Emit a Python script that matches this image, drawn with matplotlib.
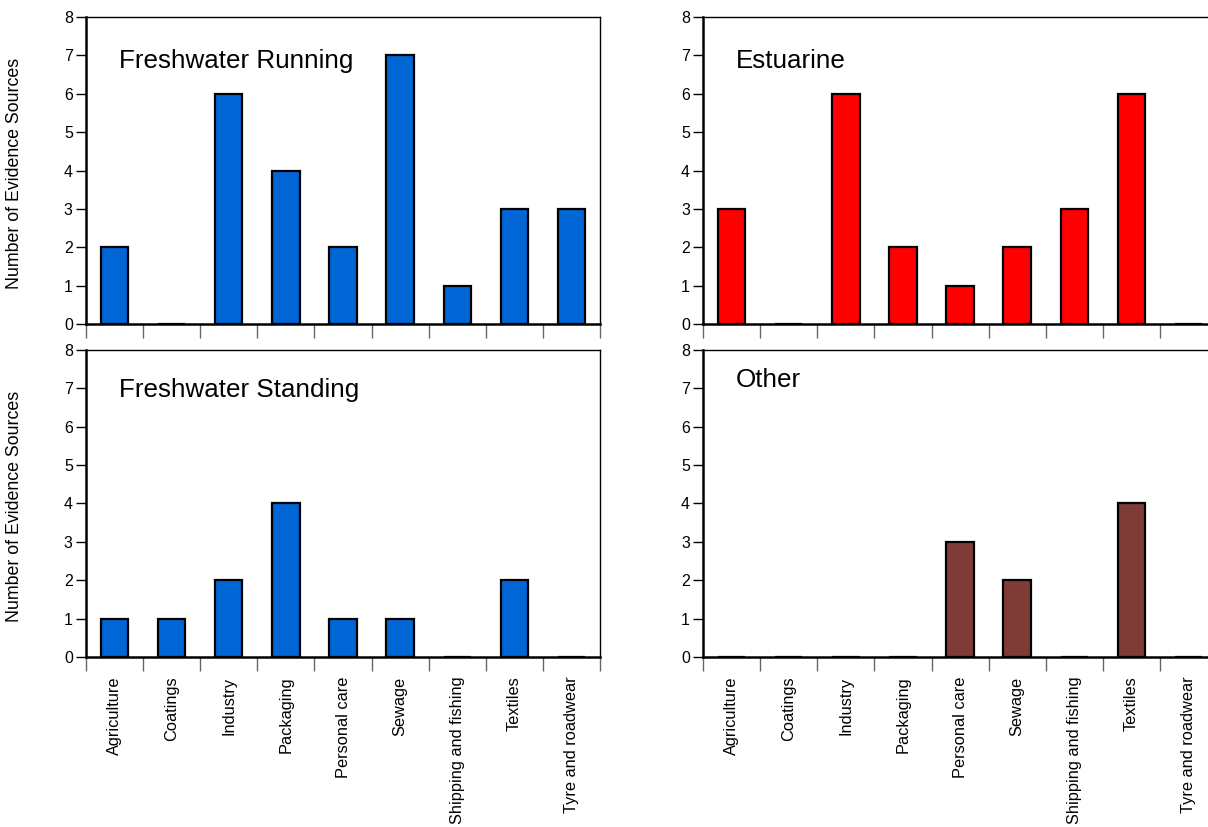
import matplotlib
matplotlib.use("Agg")
import matplotlib.pyplot as plt
import numpy as np

plt.rcParams['font.family'] = ['Liberation Sans', 'DejaVu Sans']

categories = ["Agriculture", "Coatings", "Industry", "Packaging", "Personal care",
              "Sewage", "Shipping and fishing", "Textiles", "Tyre and roadwear"]

freshwater_running = [2, 0, 6, 4, 2, 7, 1, 3, 3]
estuarine = [3, 0, 6, 2, 1, 2, 3, 6, 0]
freshwater_standing = [1, 1, 2, 4, 1, 1, 0, 2, 0]
other = [0, 0, 0, 0, 3, 2, 0, 4, 0]

panels = [
    ("Freshwater Running", freshwater_running, "#0066d6", (0.0712, 0.6082), (0.064, 0.858), True, False),
    ("Estuarine", estuarine, "#ff0000", (0.582, 0.6082), (0.064, 0.858), False, False),
    ("Freshwater Standing", freshwater_standing, "#0066d6", (0.0712, 0.2056), (0.064, 0.869), True, True),
    ("Other", other, "#7f3b35", (0.582, 0.2056), (0.064, 0.902), False, True),
]

fig = plt.figure(figsize=(12.08, 8.27), dpi=100)
x = np.arange(len(categories))

for title, values, color, (left, bottom), (tx, ty), ylab, xlab in panels:
    ax = fig.add_axes([left, bottom, 0.4255, 0.3712])
    ax.bar(x, values, width=0.48, color=color, edgecolor="black", linewidth=1.6, zorder=2)
    ax.set_xlim(-0.5, len(categories) - 0.5)
    ax.set_ylim(0, 8)
    ax.set_yticks(range(9))
    ax.tick_params(axis="y", direction="out", length=7, width=1.0, labelsize=11.5, pad=2.5)
    ax.set_xticks(np.arange(len(categories) + 1) - 0.5)
    ax.set_xticklabels([])
    ax.tick_params(axis="x", which="major", direction="out", length=10, width=1.0, color="#666666")
    if xlab:
        ax.set_xticks(x, minor=True)
        ax.set_xticklabels(categories, minor=True, rotation=90, fontsize=11.8, va="top", ha="center")
        ax.tick_params(axis="x", which="minor", length=0, pad=14)
    for side in ("left", "bottom"):
        ax.spines[side].set_linewidth(1.8)
        ax.spines[side].set_zorder(3)
    for side in ("top", "right"):
        ax.spines[side].set_linewidth(1.0)
    ax.text(tx, ty, title, transform=ax.transAxes, fontsize=18.7, ha="left", va="center")
    if ylab:
        ax.set_ylabel("Number of Evidence Sources", fontsize=12.8)
        ax.yaxis.set_label_coords(-0.123, 0.49)

fig.savefig("out.png", dpi=100)
